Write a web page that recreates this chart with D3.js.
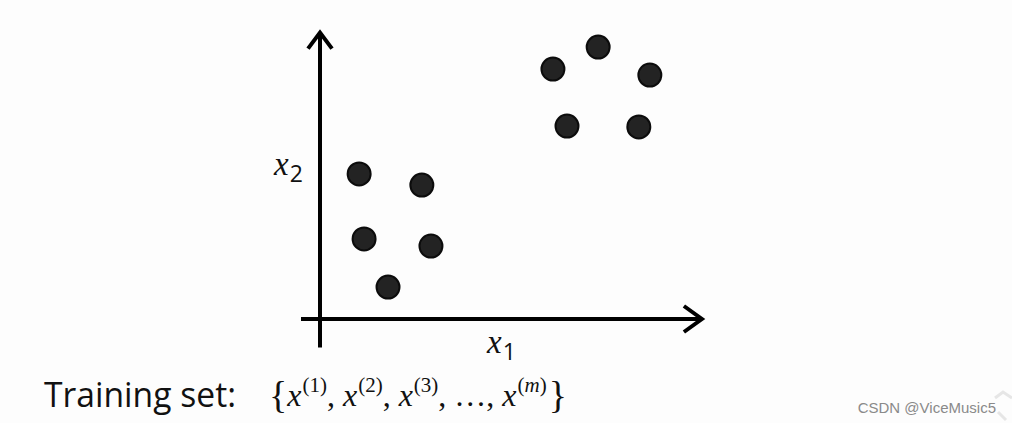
<!DOCTYPE html>
<html lang="en">
<head>
<meta charset="utf-8">
<title>Training set</title>
<script src="https://cdn.jsdelivr.net/npm/d3@7"></script>
<style>
  body { margin: 0; background: #fdfdfd; }
  svg { display: block; }
</style>
</head>
<body>
<svg width="1012" height="423"></svg>
<script>
// data (x1, x2)
var x1Values = [1.03, 2.68, 1.16, 2.92, 1.79, 6.13, 7.32, 8.68, 6.50, 8.39];
var x2Values = [5.09, 4.70, 2.81, 2.56, 1.12, 8.77, 9.54, 8.56, 6.77, 6.74];
var superscripts = ["1", "2", "3", "m"];

var svg = d3.select("svg");

var xScale = d3.scaleLinear().domain([0, 10]).range([320, 700]),
    yScale = d3.scaleLinear().domain([0, 10]).range([319, 34]);

var points = x1Values.map(function(d, i) { return { x1: d, x2: x2Values[i] }; });

// axes
var axes = svg.append("g")
    .attr("stroke", "#000")
    .attr("stroke-width", 4)
    .attr("fill", "none");

axes.append("line")
    .attr("x1", xScale(-0.5)).attr("y1", yScale(0))
    .attr("x2", xScale(10.05)).attr("y2", yScale(0));
axes.append("line")
    .attr("x1", xScale(0)).attr("y1", yScale(-1))
    .attr("x2", xScale(0)).attr("y2", yScale(10.05));

// arrow heads
axes.append("path")
    .attr("d", "M" + (xScale(10.05) - 18) + "," + (yScale(0) - 13) +
               "L" + xScale(10.05) + "," + yScale(0) +
               "L" + (xScale(10.05) - 18) + "," + (yScale(0) + 13));
axes.append("path")
    .attr("d", "M" + (xScale(0) - 12) + "," + (yScale(10.05) + 16) +
               "L" + xScale(0) + "," + yScale(10.05) +
               "L" + (xScale(0) + 12) + "," + (yScale(10.05) + 16));

// points
svg.append("g").selectAll("circle")
    .data(points)
    .enter().append("circle")
    .attr("cx", function(d) { return xScale(d.x1); })
    .attr("cy", function(d) { return yScale(d.x2); })
    .attr("r", 11.5)
    .attr("fill", "#232323")
    .attr("stroke", "#0c0c0c")
    .attr("stroke-width", 2);

// axis labels
function axisLabel(x, y, sub) {
  var t = svg.append("text")
      .attr("x", x).attr("y", y)
      .attr("font-family", "'Liberation Serif', 'DejaVu Serif', serif")
      .attr("fill", "#111");
  t.append("tspan").attr("font-style", "italic").attr("font-size", 33).text("x");
  t.append("tspan").attr("font-family", "'Open Sans', sans-serif")
      .attr("font-size", 23).attr("dy", 7).attr("dx", 1).text(sub);
}
axisLabel(274, 175, "2");
axisLabel(487, 353, "1");

// training set caption
svg.append("text")
    .attr("x", 44).attr("y", 407)
    .attr("fill", "#111")
    .attr("font-family", "'Open Sans', sans-serif")
    .attr("font-size", 34)
    .attr("textLength", 192)
    .attr("lengthAdjust", "spacingAndGlyphs")
    .text("Training set:");

var f = svg.append("text")
    .attr("x", 269).attr("y", 406)
    .attr("fill", "#111")
    .attr("font-family", "'Liberation Serif', 'DejaVu Serif', serif")
    .attr("font-size", 32);
f.append("tspan").attr("font-size", 38).attr("dy", 2).text("{");
var shift = -2;
superscripts.forEach(function(s, i) {
  if (i == 3) f.append("tspan").attr("dy", shift).text(", …, ");
  else if (i > 0) f.append("tspan").attr("dy", shift).text(", ");
  f.append("tspan").attr("font-style", "italic").attr("dy", i > 0 ? 0 : shift).text("x");
  var sup = f.append("tspan").attr("font-size", 21).attr("dy", -14).attr("dx", 1);
  sup.append("tspan").text("(");
  sup.append("tspan").attr("font-style", i == 3 ? "italic" : "normal").text(s);
  sup.append("tspan").text(")");
  shift = 14;
});
f.append("tspan").attr("font-size", 38).attr("dy", 16).attr("dx", 2).text("}");

// watermark
svg.append("text")
    .attr("x", 996).attr("y", 413)
    .attr("text-anchor", "end")
    .attr("font-family", "'Liberation Sans', Arial, sans-serif")
    .attr("font-size", 15)
    .attr("fill", "#8a8a8a")
    .text("CSDN @ViceMusic5");

svg.append("path")
    .attr("d", "M995,398 L1003,392 L1012,398 M998,412 L1006,420")
    .attr("stroke", "#e6e6e6")
    .attr("stroke-width", 3)
    .attr("fill", "none");
</script>
</body>
</html>
